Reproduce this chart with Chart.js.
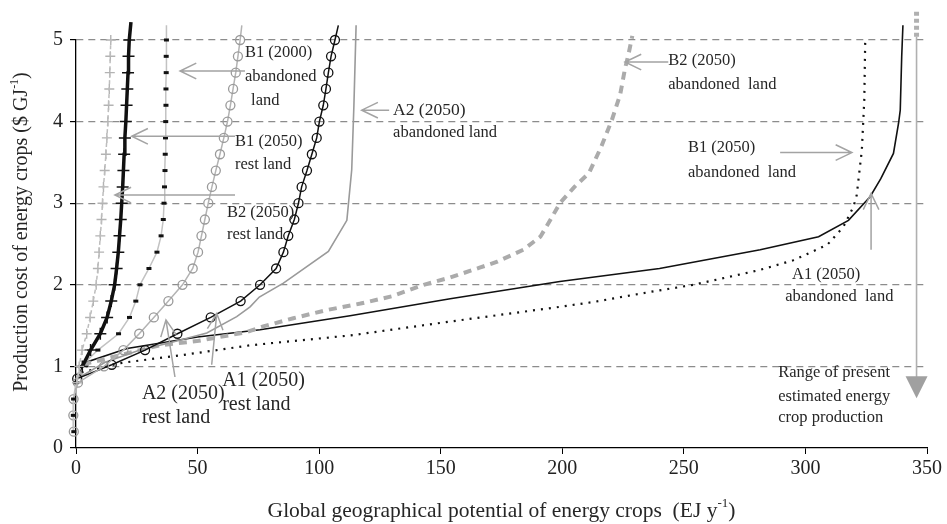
<!DOCTYPE html>
<html>
<head>
<meta charset="utf-8">
<script src="https://cdn.jsdelivr.net/npm/chart.js@4.4.0/dist/chart.umd.min.js"></script>
<style>
  html, body { margin: 0; padding: 0; background: #fff; }
</style>
</head>
<body>
<canvas id="myChart" width="947" height="524"></canvas>
<script>
  const SERIF = "'Liberation Serif', 'Times New Roman', serif";

  // tick labels
  const xTicks = [0, 50, 100, 150, 200, 250, 300, 350];
  const yTicks = [0, 1, 2, 3, 4, 5];

  // B2 (2050) rest land - grey crosses
  const b2RestY = [0.8, 1.0, 1.2, 1.4, 1.6, 1.8, 2.0, 2.2, 2.4, 2.6, 2.8, 3.0, 3.2, 3.4, 3.6, 3.8, 4.0, 4.2, 4.4, 4.6, 4.8, 5.0];
  const b2RestX = [0.4, 1.3, 2.5, 4.4, 5.8, 7.1, 8.3, 9.0, 9.5, 10.0, 10.5, 10.9, 11.3, 11.8, 12.3, 12.7, 13.1, 13.4, 13.7, 13.9, 14.1, 14.3];

  // B1 (2050) rest land - thick black crosses
  const b1RestY = [1.0, 1.2, 1.4, 1.6, 1.8, 2.0, 2.2, 2.4, 2.6, 2.8, 3.0, 3.2, 3.4, 3.6, 3.8, 4.0, 4.2, 4.4, 4.6, 4.8, 5.0, 5.22];
  const b1RestX = [2.6, 6.0, 10.0, 12.8, 14.5, 15.9, 16.7, 17.4, 17.9, 18.4, 18.8, 19.2, 19.5, 19.8, 20.1, 20.5, 20.8, 21.1, 21.4, 21.6, 21.9, 22.6];

  // B1 (2000) abandoned land - grey line, black dashes
  const b1Ab2000Y = [0.2, 0.4, 0.6, 0.8, 1.0, 1.2, 1.4, 1.6, 1.8, 2.0, 2.2, 2.4, 2.6, 2.8, 3.0, 3.2, 3.4, 3.6, 3.8, 4.0, 4.2, 4.4, 4.6, 4.8, 5.0, 5.18];
  const b1Ab2000X = [-0.9, -1.1, -1.0, 0, 2.0, 9.0, 17.5, 22.0, 24.6, 26.3, 30.0, 33.3, 35.0, 35.9, 36.2, 36.4, 36.6, 36.7, 36.8, 36.9, 37.0, 37.0, 37.1, 37.1, 37.2, 37.3];

  // A2 (2050) rest land - grey circles
  const a2RestY = [0.2, 0.4, 0.6, 0.8, 1.0, 1.2, 1.4, 1.6, 1.8, 2.0, 2.2, 2.4, 2.6, 2.8, 3.0, 3.2, 3.4, 3.6, 3.8, 4.0, 4.2, 4.4, 4.6, 4.8, 5.0, 5.18];
  const a2RestX = [-0.9, -1.1, -1.0, 0.8, 11.5, 19.5, 26.0, 32.0, 38.0, 43.8, 48.0, 50.2, 51.6, 53.0, 54.4, 55.9, 57.5, 59.2, 60.8, 62.3, 63.5, 64.6, 65.7, 66.6, 67.5, 68.2];

  // A1 (2050) rest land - black circles
  const a1RestY = [0.85, 1.02, 1.2, 1.4, 1.6, 1.8, 2.0, 2.2, 2.4, 2.6, 2.8, 3.0, 3.2, 3.4, 3.6, 3.8, 4.0, 4.2, 4.4, 4.6, 4.8, 5.0, 5.18];
  const a1RestX = [0.5, 14.7, 28.4, 41.7, 55.4, 67.7, 75.7, 82.3, 85.3, 87.3, 89.8, 91.5, 92.8, 95.0, 97.0, 99.0, 100.1, 101.7, 102.8, 103.8, 104.9, 106.5, 107.9];

  // A2 (2050) abandoned land - grey line
  const a2AbY = [0.85, 1.05, 1.2, 1.29, 1.41, 1.61, 1.73, 1.85, 2.02, 2.41, 2.79, 3.41, 4.2, 5.18];
  const a2AbX = [0.5, 12.0, 26.3, 38.7, 53.8, 66.1, 71.6, 75.4, 85.3, 103.8, 111.4, 113.4, 114.3, 115.2];

  // B2 (2050) abandoned land - thick grey dashes
  const b2AbY = [0.85, 1.04, 1.26, 1.31, 1.42, 1.49, 1.59, 1.69, 1.77, 1.86, 2.0, 2.09, 2.21, 2.28, 2.43, 2.59, 2.79, 3.0, 3.2, 3.37, 3.69, 4.02, 4.33, 4.65, 4.82, 5.05];
  const b2AbX = [0.5, 5, 34.6, 49.7, 70.2, 77, 89.4, 103, 117, 130, 143, 154, 166, 173, 184, 191, 195, 199, 205, 211, 216, 220.4, 223.8, 225.8, 227.2, 228.8];

  // A1 (2050) abandoned land - black line
  const a1AbY = [0.85, 1.04, 1.22, 1.36, 1.45, 1.62, 1.83, 2.04, 2.2, 2.43, 2.59, 2.79, 3.08, 3.3, 3.61, 3.98, 4.14, 4.8, 5.18];
  const a1AbX = [0.5, 3, 21, 50, 75.7, 112.7, 153.9, 199, 240, 281.4, 305.4, 317.7, 326.6, 331, 336.2, 338.3, 339, 339.6, 340.1];

  // B1 (2050) abandoned land - black dots
  const b1AbY = [0.85, 0.92, 1.04, 1.14, 1.26, 1.38, 1.55, 1.73, 1.79, 1.92, 2.0, 2.18, 2.3, 2.49, 2.71, 2.96, 3.1, 3.65, 4.26, 5.02];
  const b1AbX = [0.5, 1.6, 18, 44, 72, 113, 154, 199, 213, 237.5, 254, 281, 295, 309, 315.6, 319.8, 321.1, 323.2, 324.2, 324.6];

  const pts = (xs, ys) => xs.map((x, i) => ({x: x, y: ys[i]}));
  // no marker on the last point that runs above the axis
  const markLast = r => c => c.dataIndex === c.dataset.data.length - 1 && c.raw.y > 5.1 ? 0 : r;

  // annotation arrows [x1, y1, tipX, tipY]
  const arrows = [
    [69.5, 4.62, 42.8, 4.62],
    [65.4, 3.82, 22.9, 3.82],
    [65.4, 3.10, 16.0, 3.10],
    [128.8, 4.14, 117.5, 4.14],
    [243.6, 4.73, 225.8, 4.73],
    [289.6, 3.62, 319.1, 3.62],
    [327.0, 2.43, 327.0, 3.12],
    [40.7, 0.87, 37.0, 1.57],
    [55.8, 1.02, 57.9, 1.65]
  ];
  // annotation texts [text, x, y, size]
  const notes = [
    ['B1 (2000)', 69.5, 4.85, 16.5],
    ['abandoned', 69.5, 4.55, 16.5],
    ['land', 72.0, 4.26, 16.5],
    ['B1 (2050)', 65.4, 3.75, 16.5],
    ['rest land', 65.4, 3.47, 16.5],
    ['B2 (2050)', 62.1, 2.89, 16.5],
    ['rest land', 62.1, 2.61, 16.5],
    ['A2 (2050)', 130.4, 4.14, 17.5],
    ['abandoned land', 130.4, 3.86, 16.5],
    ['B2 (2050)', 243.6, 4.75, 16.5],
    ['abandoned  land', 243.6, 4.45, 16.5],
    ['B1 (2050)', 251.7, 3.68, 16.5],
    ['abandoned  land', 251.7, 3.37, 16.5],
    ['A1 (2050)', 294.5, 2.12, 16.5],
    ['abandoned  land', 291.7, 1.85, 16.5],
    ['A2 (2050)', 27.1, 0.67, 20],
    ['rest land', 27.1, 0.37, 20],
    ['A1 (2050)', 60.1, 0.83, 20],
    ['rest land', 60.1, 0.53, 20],
    ['Range of present', 288.8, 0.92, 16.5],
    ['estimated energy', 288.8, 0.625, 16.5],
    ['crop production', 288.8, 0.37, 16.5]
  ];
  // range of present production: x, top, bottom
  const rangeX = 345.7, rangeTop = 5.04, rangeBottom = 0.61;

  function drawArrow(ctx, x1, y1, x2, y2) {
    const a = Math.atan2(y2 - y1, x2 - x1), h = 18;
    ctx.beginPath();
    ctx.moveTo(x1, y1);
    ctx.lineTo(x2, y2);
    ctx.moveTo(x2 - h * Math.cos(a - 0.45), y2 - h * Math.sin(a - 0.45));
    ctx.lineTo(x2, y2);
    ctx.lineTo(x2 - h * Math.cos(a + 0.45), y2 - h * Math.sin(a + 0.45));
    ctx.stroke();
  }

  function supText(ctx, main, sup, tail, size) {
    ctx.font = size + 'px ' + SERIF;
    const w1 = ctx.measureText(main).width;
    const w3 = ctx.measureText(tail).width;
    ctx.font = Math.round(size * 0.62) + 'px ' + SERIF;
    const w2 = ctx.measureText(sup).width;
    let x = -(w1 + w2 + w3) / 2;
    ctx.font = size + 'px ' + SERIF;
    ctx.fillText(main, x, 0);
    x += w1;
    ctx.font = Math.round(size * 0.62) + 'px ' + SERIF;
    ctx.fillText(sup, x, -size * 0.35);
    x += w2;
    ctx.font = size + 'px ' + SERIF;
    ctx.fillText(tail, x, 0);
  }

  const notesPlugin = {
    id: 'notes',
    afterDatasetsDraw(chart) {
      const ctx = chart.ctx, xs = chart.scales.x, ys = chart.scales.y;
      ctx.save();
      ctx.strokeStyle = '#a3a3a3';
      ctx.lineWidth = 1.5;
      arrows.forEach(a => drawArrow(ctx, xs.getPixelForValue(a[0]), ys.getPixelForValue(a[1]),
        xs.getPixelForValue(a[2]), ys.getPixelForValue(a[3])));

      // range arrow
      const rx = xs.getPixelForValue(rangeX);
      const yTop = ys.getPixelForValue(rangeTop), yBot = ys.getPixelForValue(rangeBottom);
      ctx.strokeStyle = '#b0b0b0';
      ctx.lineWidth = 1.6;
      ctx.beginPath();
      ctx.moveTo(rx, yTop);
      ctx.lineTo(rx, yBot - 20);
      ctx.stroke();
      ctx.fillStyle = '#a0a0a0';
      ctx.beginPath();
      ctx.moveTo(rx - 11, yBot - 22);
      ctx.lineTo(rx + 11, yBot - 22);
      ctx.lineTo(rx, yBot);
      ctx.closePath();
      ctx.fill();
      ctx.strokeStyle = '#b0b0b0';
      ctx.lineWidth = 5;
      ctx.setLineDash([4, 3]);
      ctx.beginPath();
      ctx.moveTo(rx, yTop);
      ctx.lineTo(rx, yTop - 27);
      ctx.stroke();
      ctx.setLineDash([]);

      ctx.fillStyle = '#262626';
      ctx.textBaseline = 'middle';
      ctx.textAlign = 'left';
      notes.forEach(n => {
        ctx.font = n[3] + 'px ' + SERIF;
        ctx.fillText(n[0], xs.getPixelForValue(n[1]), ys.getPixelForValue(n[2]));
      });

      // axis titles with superscripts
      ctx.save();
      ctx.translate(22, 232);
      ctx.rotate(-Math.PI / 2);
      supText(ctx, 'Production cost of energy crops ($ GJ', '-1', ')', 20);
      ctx.restore();
      ctx.save();
      ctx.translate((chart.chartArea.left + chart.chartArea.right) / 2, 511);
      supText(ctx, 'Global geographical potential of energy crops  (EJ y', '-1', ')', 21.5);
      ctx.restore();
      ctx.restore();
    }
  };

  const base = {showLine: true, tension: 0, clip: false, fill: false};

  new Chart(document.getElementById('myChart'), {
    type: 'scatter',
    data: {
      datasets: [
        Object.assign({}, base, {
          label: 'B2 (2050) rest land', data: pts(b2RestX, b2RestY),
          borderColor: '#bdbdbd', borderWidth: 1.5, borderDash: [4, 3],
          pointRadius: 0
        }),
        Object.assign({}, base, {
          label: 'B2 (2050) rest land markers', data: pts(b2RestX, b2RestY), showLine: false,
          pointStyle: 'cross', pointRadius: 5, pointBorderColor: '#b3b3b3', pointBorderWidth: 1.4
        }),
        Object.assign({}, base, {
          label: 'B1 (2050) rest land', data: pts(b1RestX, b1RestY),
          borderColor: '#111', borderWidth: 3.5,
          pointStyle: 'cross', pointRadius: markLast(6), pointBorderColor: '#111', pointBorderWidth: 1.5
        }),
        Object.assign({}, base, {
          label: 'B1 (2000) abandoned land', data: pts(b1Ab2000X, b1Ab2000Y),
          borderColor: '#c2c2c2', borderWidth: 1.5,
          pointStyle: 'line', pointRadius: markLast(2.5), pointBorderColor: '#111', pointBorderWidth: 3
        }),
        Object.assign({}, base, {
          label: 'A2 (2050) rest land', data: pts(a2RestX, a2RestY),
          borderColor: '#b3b3b3', borderWidth: 1.5,
          pointStyle: 'circle', pointRadius: markLast(4.5), pointBorderColor: '#9a9a9a',
          pointBackgroundColor: 'rgba(255,255,255,0)', pointBorderWidth: 1.3
        }),
        Object.assign({}, base, {
          label: 'A1 (2050) rest land', data: pts(a1RestX, a1RestY),
          borderColor: '#111', borderWidth: 1.5,
          pointStyle: 'circle', pointRadius: markLast(4.5), pointBorderColor: '#111',
          pointBackgroundColor: 'rgba(255,255,255,0)', pointBorderWidth: 1.3
        }),
        Object.assign({}, base, {
          label: 'A2 (2050) abandoned land', data: pts(a2AbX, a2AbY),
          borderColor: '#9a9a9a', borderWidth: 1.6, pointRadius: 0
        }),
        Object.assign({}, base, {
          label: 'B2 (2050) abandoned land', data: pts(b2AbX, b2AbY),
          borderColor: '#ababab', borderWidth: 4, borderDash: [8, 6], pointRadius: 0
        }),
        Object.assign({}, base, {
          label: 'A1 (2050) abandoned land', data: pts(a1AbX, a1AbY),
          borderColor: '#111', borderWidth: 1.6, pointRadius: 0
        }),
        Object.assign({}, base, {
          label: 'B1 (2050) abandoned land', data: pts(b1AbX, b1AbY),
          borderColor: '#111', borderWidth: 2.2, borderDash: [2, 6], pointRadius: 0
        })
      ]
    },
    options: {
      responsive: false,
      animation: false,
      layout: {padding: {top: 40, right: 20, left: 0, bottom: 0}},
      plugins: {legend: {display: false}, tooltip: {enabled: false}},
      scales: {
        x: {
          type: 'linear', min: 0, max: 350,
          afterFit: s => { s.height = 76; },
          afterBuildTicks: s => { s.ticks = xTicks.map(v => ({value: v})); },
          ticks: {color: '#222', padding: 3, font: {family: SERIF, size: 20}},
          grid: {drawOnChartArea: false, drawTicks: true, tickLength: 6, tickColor: '#000'},
          border: {color: '#000', width: 1.3}
        },
        y: {
          min: 0, max: 5,
          afterFit: s => { s.width = 76; },
          afterBuildTicks: s => { s.ticks = yTicks.map(v => ({value: v})); },
          ticks: {color: '#222', padding: 7, font: {family: SERIF, size: 20}},
          grid: {
            color: c => c.tick && c.tick.value === 0 ? 'rgba(0,0,0,0)' : '#8c8c8c',
            lineWidth: 1.2, drawTicks: true, tickLength: 6, tickColor: '#000', tickBorderDash: []
          },
          border: {color: '#000', width: 1.3, dash: [7, 5]}
        }
      }
    },
    plugins: [notesPlugin]
  });
</script>
</body>
</html>
